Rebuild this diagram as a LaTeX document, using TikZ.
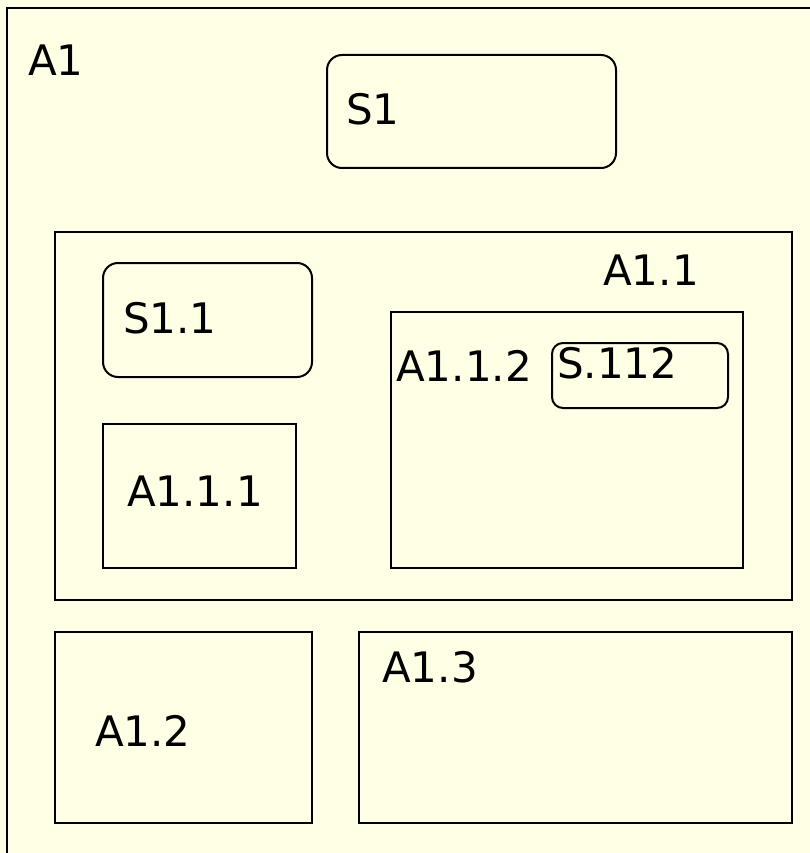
\documentclass[tikz,border=0pt]{standalone}
\usepackage{fontspec}
\setmainfont{DejaVu Sans}
\usepackage{xcolor}
\usetikzlibrary{positioning}

\definecolor{paper}{HTML}{FFFFE6}

\begin{document}
\begin{tikzpicture}[x=1pt,y=-1pt,
    area/.style={rectangle,draw,line width=2pt,inner sep=0pt},
    state/.style={area,rounded corners=15pt},
    lbl/.style={anchor=base west,inner sep=0pt,font=\fontsize{42}{50}\selectfont}]
    % Page
    \fill[paper] (0,0) rectangle (810,853);
    \useasboundingbox (0,0) rectangle (810,853);
    \clip (0,0) rectangle (810,853);

    % Outer area A1
    \draw[line width=2pt] (7,8) rectangle (840,880);
    \node[lbl] (a1) at (28,76) {A1};

    % State S1
    \node[state,minimum width=289,minimum height=113] (s1box) at (471.5,111.5) {};
    \node[lbl] (s1) at (346,125) {S1};

    % Area A1.1 with its children
    \node[area,minimum width=737,minimum height=368] (a11box) at (423.5,416) {};
    \node[lbl] (a11) at (603,285) {A1.1};

    \node[state,minimum width=209,minimum height=114] (s11box) at (207.5,320) {};
    \node[lbl] (s11) at (123,333) {S1.1};

    \node[area,minimum width=193,minimum height=144] (a111box) at (199.5,496) {};
    \node[lbl] (a111) at (127,506) {A1.1.1};

    \node[area,minimum width=352,minimum height=256] (a112box) at (567,440) {};
    \node[lbl] (a112) at (396,381) {A1.1.2};

    \node[state,rounded corners=11pt,minimum width=176,minimum height=65] (s112box) at (640,375.5) {};
    \node[lbl] (s112) at (557,378) {S.112};

    % Areas A1.2 and A1.3
    \node[area,minimum width=257,minimum height=191] (a12box) at (183.5,727.5) {};
    \node[lbl] (a12) at (95,746) {A1.2};

    \node[area,minimum width=433,minimum height=191] (a13box) at (575.5,727.5) {};
    \node[lbl] (a13) at (382,682) {A1.3};
\end{tikzpicture}
\end{document}
